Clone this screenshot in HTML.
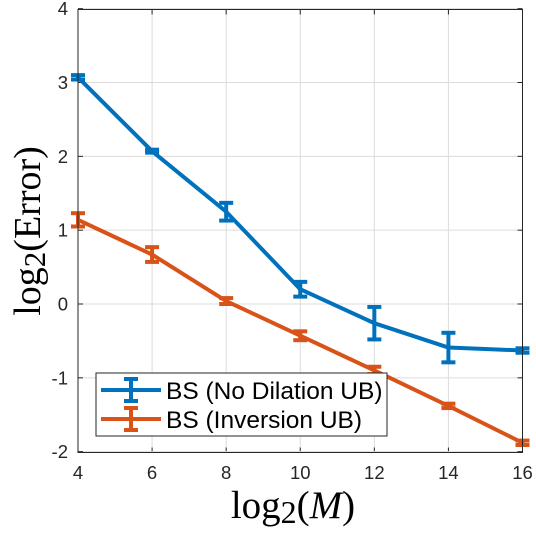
<!DOCTYPE html>
<html><head><meta charset="utf-8"><style>
body{margin:0;background:#fff}
svg text{font-family:"Liberation Sans",sans-serif}
</style></head><body>
<svg id="chart" width="536" height="531" viewBox="0 0 536 531" xmlns="http://www.w3.org/2000/svg">
<rect width="536" height="531" fill="#fff"/>
<g id="grid"></g>
<g id="ticks"></g>
<g id="series"></g>
<rect x="78" y="9.5" width="444.5" height="443" fill="none" stroke="#262626" stroke-width="1"/>
<text x="293" y="518" text-anchor="middle" font-size="39" fill="#000"><tspan style="font-family:'Liberation Serif',serif">log</tspan><tspan font-size="32" dy="5" style="font-family:'Liberation Serif',serif">2</tspan><tspan dy="-5" style="font-family:'Liberation Serif',serif">(</tspan><tspan font-style="italic" style="font-family:'Liberation Serif',serif">M</tspan><tspan style="font-family:'Liberation Serif',serif">)</tspan></text>
<text transform="translate(40,231) rotate(-90)" text-anchor="middle" font-size="38" fill="#000"><tspan style="font-family:'Liberation Serif',serif">log</tspan><tspan font-size="31" dy="5" style="font-family:'Liberation Serif',serif">2</tspan><tspan dy="-5" style="font-family:'Liberation Serif',serif">(Error)</tspan></text>
<g>
<rect x="96" y="373" width="291" height="63" fill="#fff" stroke="#262626" stroke-width="1"/>
<g>
<line x1="101" y1="390" x2="161" y2="390" stroke="#0072BD" stroke-width="4"/>
<line x1="131" y1="379" x2="131" y2="401" stroke="#0072BD" stroke-width="4"/>
<line x1="124" y1="379" x2="138" y2="379" stroke="#0072BD" stroke-width="4"/>
<line x1="124" y1="401" x2="138" y2="401" stroke="#0072BD" stroke-width="4"/>
<text x="166" y="399" font-size="24.5" fill="#000">BS (No Dilation UB)</text></g>
<g>
<line x1="101" y1="419" x2="161" y2="419" stroke="#D95319" stroke-width="4"/>
<line x1="131" y1="408" x2="131" y2="430" stroke="#D95319" stroke-width="4"/>
<line x1="124" y1="408" x2="138" y2="408" stroke="#D95319" stroke-width="4"/>
<line x1="124" y1="430" x2="138" y2="430" stroke="#D95319" stroke-width="4"/>
<text x="166" y="428" font-size="24.5" fill="#000">BS (Inversion UB)</text></g>
</g>
</svg>
<script>
const xCats=[4,6,8,10,12,14,16];
const blueVals=[3.07,2.07,1.25,0.2,-0.26,-0.59,-0.63];
const blueErr=[0.03,0.02,0.12,0.1,0.22,0.2,0.03];
const orangeVals=[1.14,0.67,0.04,-0.43,-0.9,-1.38,-1.88];
const orangeErr=[0.09,0.1,0.04,0.06,0.05,0.03,0.03];
const xTicks=[4,6,8,10,12,14,16];
const yTicks=[-2,-1,0,1,2,3,4];
const NS="http://www.w3.org/2000/svg";
const X=v=>78+(v-4)*(444.5/12);
const Y=v=>304-v*73.83;
function mk(t,a,p){const e=document.createElementNS(NS,t);for(const k in a)e.setAttribute(k,a[k]);p.appendChild(e);return e;}
const grid=document.getElementById('grid'),ticks=document.getElementById('ticks'),ser=document.getElementById('series');
xTicks.forEach(t=>{
 const l=mk('line',{x1:X(t),x2:X(t),y1:9.5,y2:452.5,stroke:'#dcdcdc','stroke-width':1},grid);
 
 
 mk('line',{x1:X(t),x2:X(t),y1:452.5,y2:447.5,stroke:'#262626'},grid);
 mk('line',{x1:X(t),x2:X(t),y1:9.5,y2:14.5,stroke:'#262626'},grid);
 const s=mk('text',{x:X(t),y:479,'text-anchor':'middle','font-size':18.5,fill:'#262626'},ticks);
 s.textContent=t;
 
 
});
yTicks.forEach(t=>{
 const l=mk('line',{x1:78,x2:522.5,y1:Y(t),y2:Y(t),stroke:'#dcdcdc','stroke-width':1},grid);
 
 
 mk('line',{x1:78,x2:83,y1:Y(t),y2:Y(t),stroke:'#262626'},grid);
 mk('line',{x1:517.5,x2:522.5,y1:Y(t),y2:Y(t),stroke:'#262626'},grid);
 const s=mk('text',{x:68,y:Y(t)+6.5,'text-anchor':'end','font-size':18.5,fill:'#262626'},ticks);
 s.textContent=t;
 
 
});
function draw(vals,errs,col,name){
 const g=mk('g',{},ser);
 
 
 const p=mk('polyline',{points:xCats.map((x,i)=>X(x)+','+Y(vals[i])).join(' '),fill:'none',stroke:col,'stroke-width':4,'stroke-linejoin':'round'},g);
 
 
 xCats.forEach((x,i)=>{
  const eb=mk('g',{stroke:col,'stroke-width':4},g);
  
  
  const t=Y(vals[i]+errs[i]),b=Y(vals[i]-errs[i]);
  mk('line',{x1:X(x),x2:X(x),y1:t,y2:b},eb);
  mk('line',{x1:X(x)-7,x2:X(x)+7,y1:t,y2:t},eb);
  mk('line',{x1:X(x)-7,x2:X(x)+7,y1:b,y2:b},eb);
 });
}
draw(blueVals,blueErr,'#0072BD','series-no-dilation');
draw(orangeVals,orangeErr,'#D95319','series-inversion');
</script>
</body></html>
